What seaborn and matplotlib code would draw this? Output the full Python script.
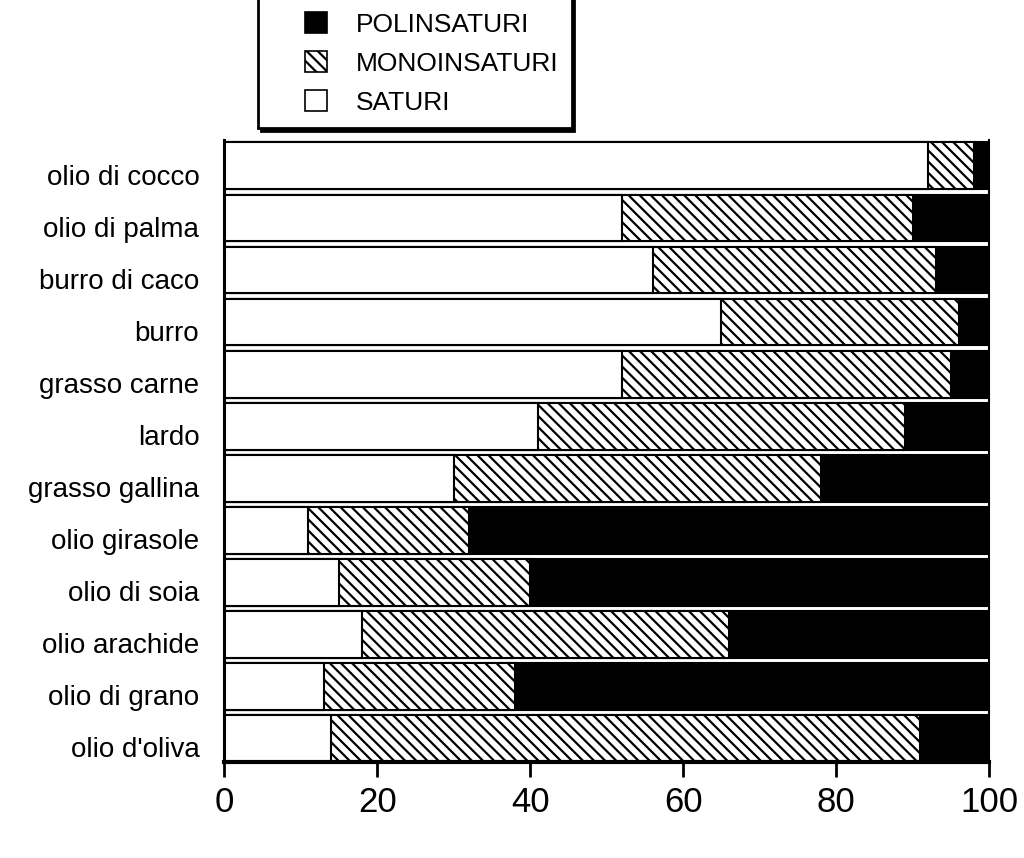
import matplotlib
matplotlib.use("Agg")
import matplotlib.pyplot as plt
import matplotlib.transforms as mtransforms
import seaborn as sns
import pandas as pd
from matplotlib.patches import Patch, Rectangle
from matplotlib.legend_handler import HandlerPatch

categories = ["olio di cocco", "olio di palma", "burro di caco", "burro",
              "grasso carne", "lardo", "grasso gallina", "olio girasole",
              "olio di soia", "olio arachide", "olio di grano", "olio d'oliva"]
saturi = [92, 52, 56, 65, 52, 41, 30, 11, 15, 18, 13, 14]
monoinsaturi = [6, 38, 37, 31, 43, 48, 48, 21, 25, 48, 25, 77]
polinsaturi = [2, 10, 7, 4, 5, 11, 22, 68, 60, 34, 62, 9]
x_ticks = [0, 20, 40, 60, 80, 100]
legend_labels = ["POLINSATURI", "MONOINSATURI", "SATURI"]

sns.set_theme(style="white")
plt.rcParams["font.family"] = ["Liberation Sans", "DejaVu Sans"]
plt.rcParams["hatch.linewidth"] = 1.6
plt.rcParams["hatch.color"] = "black"

df = pd.DataFrame({"cat": categories, "sat": saturi, "mono": monoinsaturi,
                   "poli": polinsaturi})
df["total"] = df["sat"] + df["mono"] + df["poli"]
df["cum_mono"] = df["sat"] + df["mono"]

fig = plt.figure(figsize=(10.24, 8.58), dpi=100)
ax = fig.add_axes([0.219, 0.112, 0.747, 0.725])

common = dict(y="cat", orient="h", width=0.9, edgecolor="black",
              linewidth=1.5, saturation=1, ax=ax, order=categories)
sns.barplot(data=df, x="total", color="black", **common)
n0 = len(ax.patches)
sns.barplot(data=df, x="cum_mono", color="white", **common)
for p in ax.patches[n0:]:
    p.set_hatch("\\\\\\")
sns.barplot(data=df, x="sat", color="white", **common)

ax.set_xlim(0, 100)
ax.set_ylim(11.45, -0.5)
ax.set_xticks(x_ticks)
ax.set_xticklabels([str(t) for t in x_ticks], fontsize=25)
ax.set_xlabel("")
ax.set_ylabel("")
ax.tick_params(axis="x", direction="out", length=10.5, width=2, color="black",
               pad=7, bottom=True)
ax.tick_params(axis="y", length=0, pad=18, labelsize=20)
offset = mtransforms.ScaledTranslation(0, -9 / 100, fig.dpi_scale_trans)
for lab in ax.get_yticklabels():
    lab.set_color("black")
    lab.set_transform(lab.get_transform() + offset)
for lab in ax.get_xticklabels():
    lab.set_color("black")

for s in ["left", "bottom", "right"]:
    ax.spines[s].set_visible(True)
    ax.spines[s].set_color("black")
ax.spines["top"].set_visible(False)
ax.spines["left"].set_linewidth(2.2)
ax.spines["bottom"].set_linewidth(3)
ax.spines["right"].set_linewidth(1.5)


def square(legend, orig_handle, xdescent, ydescent, width, height, fontsize):
    s = height * 0.9
    return Rectangle((-xdescent + width - s, -ydescent + (height - s) / 2), s, s)


handles = [Patch(facecolor="black", edgecolor="black", linewidth=1.2),
           Patch(facecolor="white", edgecolor="black", hatch="\\\\\\", linewidth=1.2),
           Patch(facecolor="white", edgecolor="black", linewidth=1.2)]
leg = fig.legend(handles=handles, labels=legend_labels, loc="lower left",
                 bbox_to_anchor=(0.252, 0.851), bbox_transform=fig.transFigure,
                 borderaxespad=0, fontsize=19, frameon=True, fancybox=False,
                 shadow={"color": "black", "alpha": 1}, edgecolor="black",
                 framealpha=1, handlelength=2.1, handleheight=1.0,
                 handletextpad=1.1, labelspacing=0.5, borderpad=0.5,
                 handler_map={Patch: HandlerPatch(patch_func=square)})
leg.get_frame().set_linewidth(2)
for t in leg.get_texts():
    t.set_color("black")

fig.savefig("out.png", dpi=100, facecolor="white")
